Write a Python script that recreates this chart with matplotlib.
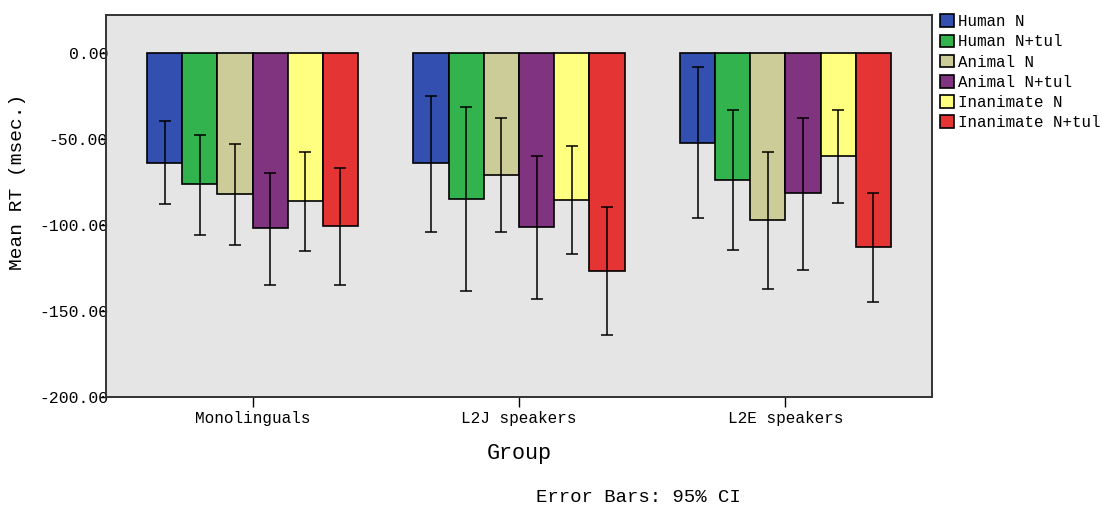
import numpy as np
import matplotlib
matplotlib.use('Agg')
import matplotlib.pyplot as plt
from matplotlib.patches import Patch

# data
groups = ['Monolinguals', 'L2J speakers', 'L2E speakers']
series = ['Human N', 'Human N+tul', 'Animal N', 'Animal N+tul', 'Inanimate N', 'Inanimate N+tul']

human_n = [-63.8, -64.3, -52.4]
human_n_tul = [-76.5, -85.0, -74.0]
animal_n = [-82.3, -70.7, -97.4]
animal_n_tul = [-102.0, -101.4, -81.7]
inanimate_n = [-86.2, -85.4, -60.1]
inanimate_n_tul = [-100.9, -126.6, -112.8]

# 95% CI bounds (lower, upper)
human_n_ci = ([-88.1, -104.0, -96.2], [-39.6, -24.9, -8.3])
human_n_tul_ci = ([-105.9, -138.3, -114.8], [-47.5, -31.3, -33.4])
animal_n_ci = ([-111.9, -104.0, -137.4], [-52.9, -37.7, -57.8])
animal_n_tul_ci = ([-134.9, -143.2, -126.2], [-69.6, -59.7, -37.7])
inanimate_n_ci = ([-115.0, -116.7, -87.1], [-57.6, -54.3, -33.4])
inanimate_n_tul_ci = ([-134.9, -164.0, -144.7], [-66.7, -89.3, -81.2])

y_ticks = [0, -50, -100, -150, -200]

means = [human_n, human_n_tul, animal_n, animal_n_tul, inanimate_n, inanimate_n_tul]
cis = [human_n_ci, human_n_tul_ci, animal_n_ci, animal_n_tul_ci, inanimate_n_ci, inanimate_n_tul_ci]
colors = ['#3350B1', '#33B34D', '#CCCC99', '#80337F', '#FFFF80', '#E53434']

font = 'Liberation Mono'


def main():
    fig = plt.figure(figsize=(11.02, 5.07), dpi=100, facecolor='white')
    ax = fig.add_axes([106 / 1102, 1 - 397 / 507, (932 - 106) / 1102, (397 - 15) / 507])
    ax.set_facecolor('#E5E5E5')

    x = np.arange(len(groups))
    w = 0.132
    for i, (m, ci) in enumerate(zip(means, cis)):
        pos = x + (i - 2.5) * w
        m = np.array(m)
        lo = np.array(ci[0])
        hi = np.array(ci[1])
        ax.bar(pos, m, width=w, color=colors[i], edgecolor='black', linewidth=1.2, zorder=2)
        ax.errorbar(pos, m, yerr=[m - lo, hi - m], fmt='none', ecolor='black',
                    elinewidth=1.1, capsize=4, capthick=1.1, zorder=3)

    ax.set_xlim(-0.55, 2.55)
    ax.set_ylim(-200, 22)
    ax.set_xticks(x)
    ax.set_xticklabels(groups, fontfamily=font, fontsize=11.5)
    ax.set_yticks(y_ticks)
    ax.set_yticklabels(['%.2f' % v for v in y_ticks], fontfamily=font, fontsize=11.8)
    ax.tick_params(axis='x', direction='out', length=7, width=1, pad=3)
    ax.tick_params(axis='y', direction='out', length=4, width=1, pad=-5.5)
    for s in ax.spines.values():
        s.set_color('#333333')
        s.set_linewidth(1.4)

    fig.text(18 / 1102, 1 - 182 / 507, 'Mean RT (msec.)', rotation=90, ha='center', va='center',
             fontfamily=font, fontsize=14)
    fig.text(519 / 1102, 1 - 453 / 507, 'Group', ha='center', va='center',
             fontfamily=font, fontsize=15.7)
    fig.text(638 / 1102, 1 - 497 / 507, 'Error Bars: 95% CI', ha='center', va='center',
             fontfamily=font, fontsize=13.7)

    handles = [Patch(facecolor=c, edgecolor='black', linewidth=1.2) for c in colors]
    fig.legend(handles, series, loc='upper left', bbox_to_anchor=(937 / 1102, 1 - 11 / 507),
               frameon=False, prop={'family': font, 'size': 11.4}, handlelength=0.85,
               handleheight=0.85, handletextpad=0.25, labelspacing=0.33, borderaxespad=0,
               borderpad=0.2)

    fig.savefig('out.png', dpi=100)


if __name__ == '__main__':
    main()
